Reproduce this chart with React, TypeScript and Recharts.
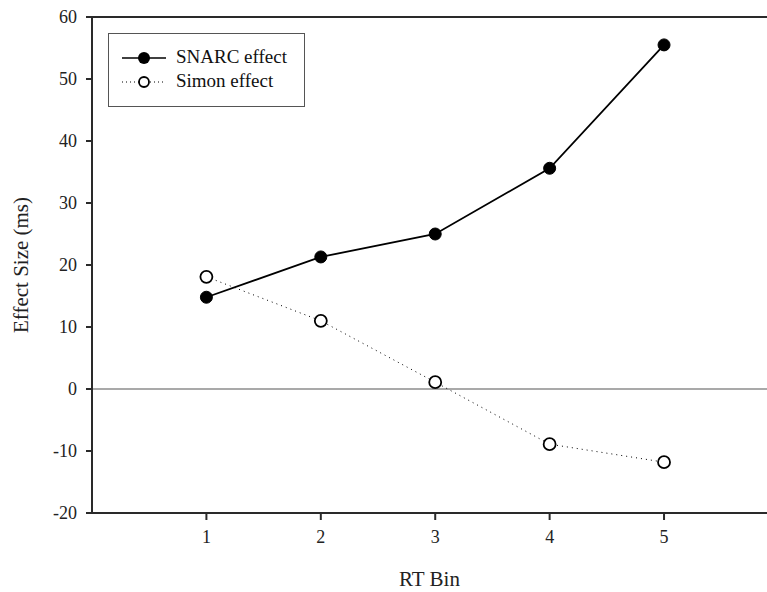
import React from "react";
import {
  LineChart,
  Line,
  XAxis,
  YAxis,
  ReferenceLine,
} from "recharts";

const bins = [1, 2, 3, 4, 5];
const snarcEffect = [14.8, 21.3, 25.0, 35.6, 55.5];
const simonEffect = [18.1, 11.0, 1.1, -8.9, -11.8];
const yTicks = [-20, -10, 0, 10, 20, 30, 40, 50, 60];
const seriesNames = ["SNARC effect", "Simon effect"];

const data = bins.map((bin, i) => ({
  bin,
  snarc: snarcEffect[i],
  simon: simonEffect[i],
}));

const FONT = "'Liberation Serif', 'Times New Roman', serif";
const AXIS = "#2a2a2a";

// legend drawn as an overlay so it doesn't shrink the plot area
function LegendBox() {
  return (
    <div
      style={{
        position: "absolute",
        left: 108,
        top: 33,
        border: "1.5px solid #555",
        width: 197,
        height: 74,
        boxSizing: "border-box",
        background: "#fff",
        fontFamily: FONT,
        fontSize: 19,
        color: "#111",
      }}
    >
      <svg width={62} height={72} style={{ position: "absolute", left: 0, top: 0 }}>
        <line x1={13} x2={57} y1={24} y2={24} stroke="#000" strokeWidth={1.5} />
        <circle cx={35} cy={24} r={6} fill="#000" />
        <line x1={13} x2={57} y1={48} y2={48} stroke="#000" strokeWidth={1} strokeDasharray="1 3" />
        <circle cx={35} cy={48} r={5} fill="#fff" stroke="#000" strokeWidth={1.8} />
      </svg>
      <div style={{ position: "absolute", left: 67, top: 12, lineHeight: "22px" }}>{seriesNames[0]}</div>
      <div style={{ position: "absolute", left: 67, top: 36, lineHeight: "22px" }}>{seriesNames[1]}</div>
    </div>
  );
}

export default function App() {
  return (
    <div style={{ position: "absolute", left: 0, top: 0, width: 767, height: 592, background: "#fff" }}>
      <LineChart
        width={767}
        height={592}
        data={data}
        margin={{ top: 17, right: 0, bottom: 0, left: 0 }}
      >
        <XAxis
          dataKey="bin"
          type="number"
          domain={[0, 5.9]}
          ticks={bins}
          height={79}
          stroke={AXIS}
          strokeWidth={2}
          tickSize={7}
          tick={{ fontFamily: FONT, fontSize: 18, fill: "#222" }}
          tickMargin={10}
          allowDataOverflow
          label={{
            value: "RT Bin",
            position: "insideBottom",
            offset: 6,
            style: { fontFamily: FONT, fontSize: 21, fill: "#222" },
          }}
        />
        <YAxis
          type="number"
          domain={[-20, 60]}
          ticks={yTicks}
          width={92}
          stroke={AXIS}
          strokeWidth={2}
          tickSize={6}
          tickMargin={9}
          tick={{ fontFamily: FONT, fontSize: 18, fill: "#222" }}
          label={{
            value: "Effect Size (ms)",
            angle: -90,
            position: "insideLeft",
            offset: 21,
            style: { fontFamily: FONT, fontSize: 21, fill: "#222", textAnchor: "middle" },
          }}
        />
        <ReferenceLine y={60} stroke={AXIS} strokeWidth={2} />
        <ReferenceLine y={0} stroke="#555" strokeWidth={1.2} />
        <Line
          dataKey="simon"
          name={seriesNames[1]}
          stroke="#000"
          strokeWidth={1}
          strokeDasharray="1 4"
          dot={{ r: 6, fill: "#fff", stroke: "#000", strokeWidth: 1.8, strokeDasharray: "none" }}
          isAnimationActive={false}
        />
        <Line
          dataKey="snarc"
          name={seriesNames[0]}
          stroke="#000"
          strokeWidth={1.8}
          dot={{ r: 6, fill: "#000", stroke: "#000", strokeWidth: 1 }}
          isAnimationActive={false}
        />
      </LineChart>
      <LegendBox />
    </div>
  );
}
